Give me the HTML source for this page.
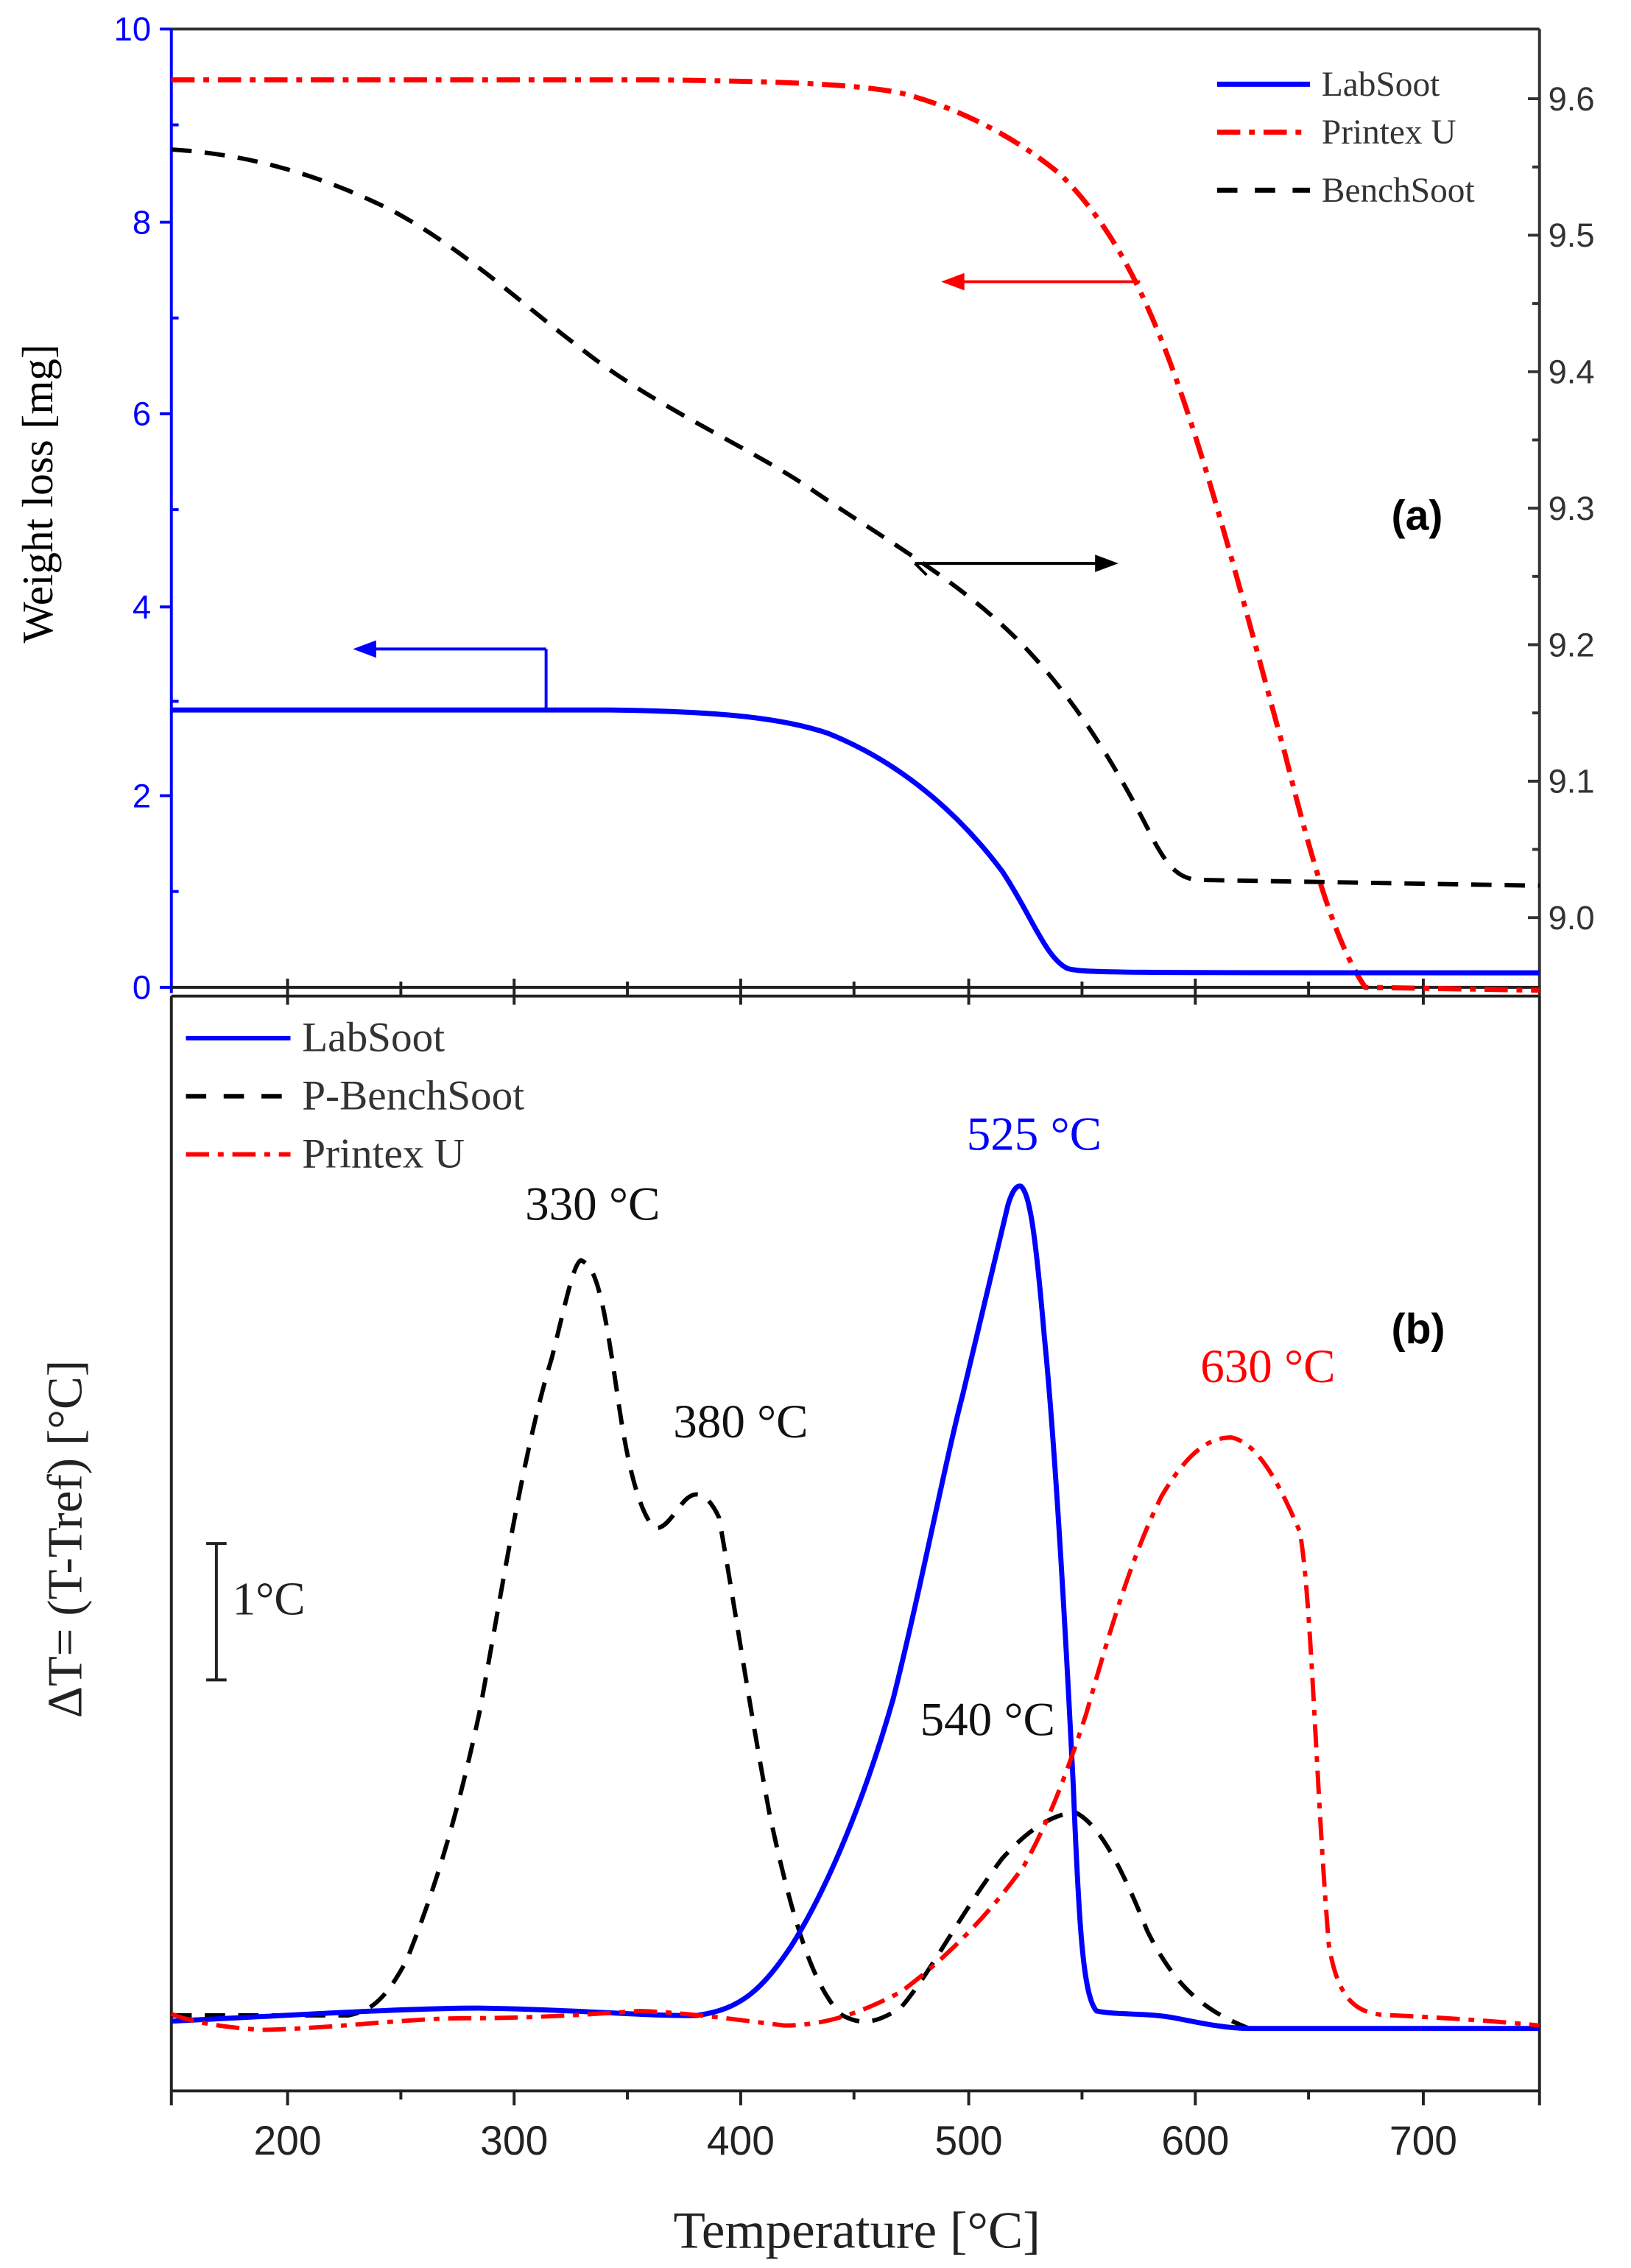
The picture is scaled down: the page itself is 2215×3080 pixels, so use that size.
<!DOCTYPE html>
<html><head><meta charset="utf-8"><style>html,body{margin:0;padding:0;background:#fff}svg{display:block}</style></head>
<body>
<svg width="2215" height="3080" viewBox="0 0 1123 1562" preserveAspectRatio="none" xmlns="http://www.w3.org/2000/svg">
<rect width="1123" height="1562" fill="#fff"/>
<line x1="118" y1="20" x2="1060" y2="20" stroke="#333" stroke-width="2"/>
<line x1="1060" y1="20" x2="1060" y2="686" stroke="#333" stroke-width="2"/>
<line x1="118" y1="20" x2="118" y2="684" stroke="#00f" stroke-width="2"/>
<line x1="118" y1="680" x2="1060" y2="680" stroke="#222" stroke-width="2"/>
<line x1="118" y1="686" x2="1060" y2="686" stroke="#222" stroke-width="2"/>
<g stroke="#00f" stroke-width="2">
<line x1="110" y1="680" x2="118" y2="680"/><line x1="110" y1="548" x2="118" y2="548"/><line x1="110" y1="418" x2="118" y2="418"/><line x1="110" y1="285" x2="118" y2="285"/><line x1="110" y1="153" x2="118" y2="153"/><line x1="110" y1="20" x2="118" y2="20"/>
<line x1="118" y1="614" x2="123" y2="614"/><line x1="118" y1="483" x2="123" y2="483"/><line x1="118" y1="351" x2="123" y2="351"/><line x1="118" y1="219" x2="123" y2="219"/><line x1="118" y1="86" x2="123" y2="86"/>
</g>
<g font-family="Liberation Sans, sans-serif" font-size="23" fill="#00f" text-anchor="end">
<text x="104" y="688">0</text><text x="104" y="556">2</text><text x="104" y="426">4</text><text x="104" y="293">6</text><text x="104" y="161">8</text><text x="104" y="28">10</text>
</g>
<g stroke="#333" stroke-width="2">
<line x1="1052" y1="68" x2="1060" y2="68"/><line x1="1052" y1="162" x2="1060" y2="162"/><line x1="1052" y1="256" x2="1060" y2="256"/><line x1="1052" y1="350" x2="1060" y2="350"/><line x1="1052" y1="444" x2="1060" y2="444"/><line x1="1052" y1="538" x2="1060" y2="538"/><line x1="1052" y1="632" x2="1060" y2="632"/>
<line x1="1055" y1="115" x2="1060" y2="115"/><line x1="1055" y1="209" x2="1060" y2="209"/><line x1="1055" y1="303" x2="1060" y2="303"/><line x1="1055" y1="397" x2="1060" y2="397"/><line x1="1055" y1="491" x2="1060" y2="491"/><line x1="1055" y1="585" x2="1060" y2="585"/>
</g>
<g font-family="Liberation Sans, sans-serif" font-size="23" fill="#333">
<text x="1066" y="76">9.6</text><text x="1066" y="170">9.5</text><text x="1066" y="264">9.4</text><text x="1066" y="358">9.3</text><text x="1066" y="452">9.2</text><text x="1066" y="546">9.1</text><text x="1066" y="640">9.0</text>
</g>
<g stroke="#222" stroke-width="2">
<line x1="198" y1="674" x2="198" y2="692"/><line x1="354" y1="674" x2="354" y2="692"/><line x1="510" y1="674" x2="510" y2="692"/><line x1="667" y1="674" x2="667" y2="692"/><line x1="823" y1="674" x2="823" y2="692"/><line x1="980" y1="674" x2="980" y2="692"/>
<line x1="276" y1="676" x2="276" y2="686"/><line x1="432" y1="676" x2="432" y2="686"/><line x1="588" y1="676" x2="588" y2="686"/><line x1="745" y1="676" x2="745" y2="686"/><line x1="901" y1="676" x2="901" y2="686"/>
</g>
<text transform="translate(36,340) rotate(-90)" text-anchor="middle" font-family="Liberation Serif, serif" font-size="30">Weight loss [mg]</text>
<path d="M118,55 L450,55 C540,56 590,58 620,64 C660,74 700,95 730,120 C760,150 780,185 800,235 C830,310 860,430 885,520 C905,600 920,650 940,680 L1060,682" fill="none" stroke="#f00" stroke-width="3.5" stroke-dasharray="16,6,4,6"/>
<path d="M118,103 C170,106 220,120 270,145 C320,172 360,210 400,240 C450,280 520,310 560,338 C610,372 660,400 700,440 C740,480 770,530 795,580 C805,598 812,605 825,606 L1060,610" fill="none" stroke="#000" stroke-width="3" stroke-dasharray="14,9"/>
<path d="M118,489 L420,489 C500,490 540,495 570,505 C620,525 660,560 690,600 C710,630 720,660 735,667 C745,670 760,670 1060,670" fill="none" stroke="#00f" stroke-width="3.5"/>
<g stroke="#f00" stroke-width="2"><line x1="785" y1="194" x2="660" y2="194"/></g><polygon points="648,194 664,188 664,200" fill="#f00"/>
<g stroke="#000" stroke-width="2"><line x1="630" y1="388" x2="758" y2="388"/><line x1="630" y1="388" x2="638" y2="396"/></g><polygon points="770,388 754,382 754,394" fill="#000"/>
<g stroke="#00f" stroke-width="2"><line x1="376" y1="447" x2="376" y2="489"/><line x1="376" y1="447" x2="253" y2="447"/></g><polygon points="243,447 259,441 259,453" fill="#00f"/>
<line x1="838" y1="58" x2="902" y2="58" stroke="#00f" stroke-width="3.5"/>
<line x1="838" y1="91" x2="902" y2="91" stroke="#f00" stroke-width="3.5" stroke-dasharray="16,6,4,6"/>
<line x1="838" y1="131" x2="902" y2="131" stroke="#000" stroke-width="3.5" stroke-dasharray="14,12"/>
<g font-family="Liberation Serif, serif" font-size="24" fill="#333">
<text x="910" y="66">LabSoot</text><text x="910" y="99">Printex U</text><text x="910" y="139">BenchSoot</text>
</g>
<text x="958" y="365" font-family="Liberation Sans, sans-serif" font-weight="bold" font-size="29">(a)</text>
<line x1="118" y1="686" x2="118" y2="1440" stroke="#222" stroke-width="2"/>
<line x1="1060" y1="686" x2="1060" y2="1440" stroke="#222" stroke-width="2"/>
<line x1="118" y1="1440" x2="1060" y2="1440" stroke="#222" stroke-width="2"/>
<g stroke="#222" stroke-width="2">
<line x1="198" y1="1440" x2="198" y2="1450"/><line x1="354" y1="1440" x2="354" y2="1450"/><line x1="510" y1="1440" x2="510" y2="1450"/><line x1="667" y1="1440" x2="667" y2="1450"/><line x1="823" y1="1440" x2="823" y2="1450"/><line x1="980" y1="1440" x2="980" y2="1450"/>
<line x1="276" y1="1440" x2="276" y2="1446"/><line x1="432" y1="1440" x2="432" y2="1446"/><line x1="588" y1="1440" x2="588" y2="1446"/><line x1="745" y1="1440" x2="745" y2="1446"/><line x1="901" y1="1440" x2="901" y2="1446"/><line x1="118" y1="1440" x2="118" y2="1450"/><line x1="1060" y1="1440" x2="1060" y2="1450"/>
</g>
<g font-family="Liberation Sans, sans-serif" font-size="28" fill="#222" text-anchor="middle">
<text x="198" y="1484">200</text><text x="354" y="1484">300</text><text x="510" y="1484">400</text><text x="667" y="1484">500</text><text x="823" y="1484">600</text><text x="980" y="1484">700</text>
</g>
<text x="590" y="1548" text-anchor="middle" font-family="Liberation Serif, serif" font-size="36" fill="#222">Temperature [°C]</text>
<text transform="translate(56,1060) rotate(-90)" text-anchor="middle" font-family="Liberation Serif, serif" font-size="34" fill="#222">ΔT= (T-Tref) [°C]</text>
<path d="M118,1388 L240,1388 C255,1385 265,1378 280,1350 C300,1300 315,1250 330,1180 C345,1100 360,1000 380,935 C390,895 395,870 400,868 C410,872 415,890 425,960 C432,1010 440,1040 450,1052 C458,1055 465,1040 472,1033 C480,1025 488,1030 495,1045 C505,1100 515,1170 530,1250 C545,1320 560,1370 580,1388 C595,1396 605,1392 620,1383 C640,1360 660,1320 690,1280 C710,1258 725,1250 740,1248 C755,1255 770,1280 790,1330 C810,1370 830,1385 860,1397 L1030,1397" fill="none" stroke="#000" stroke-width="3" stroke-dasharray="14,9"/>
<path d="M118,1392 C200,1388 280,1383 330,1383 C400,1384 450,1389 480,1388 C510,1384 525,1370 545,1340 C570,1300 595,1240 615,1170 C635,1090 650,1010 663,960 C677,900 687,860 694,830 C697,820 700,816 703,817 C709,822 713,850 719,920 C727,1000 734,1130 739,1230 C743,1330 746,1375 755,1385 C770,1388 790,1386 810,1390 C830,1394 845,1397 860,1397 L1060,1397" fill="none" stroke="#00f" stroke-width="3.5"/>
<path d="M118,1387 C130,1392 150,1396 180,1398 C230,1397 280,1390 320,1390 C370,1390 410,1387 440,1385 C470,1386 500,1390 540,1395 C570,1395 595,1385 620,1372 C650,1350 680,1320 705,1285 C722,1255 735,1220 748,1180 C765,1120 780,1070 800,1030 C818,1000 832,990 848,990 C866,994 880,1020 895,1055 C903,1100 906,1230 915,1340 C922,1380 935,1388 960,1388 C1000,1390 1030,1392 1060,1395" fill="none" stroke="#f00" stroke-width="3" stroke-dasharray="16,6,4,6"/>
<line x1="128" y1="715" x2="200" y2="715" stroke="#00f" stroke-width="3"/>
<line x1="128" y1="755" x2="200" y2="755" stroke="#000" stroke-width="3" stroke-dasharray="14,12"/>
<line x1="128" y1="795" x2="200" y2="795" stroke="#f00" stroke-width="3" stroke-dasharray="16,6,4,6"/>
<g font-family="Liberation Serif, serif" font-size="29" fill="#333">
<text x="208" y="724">LabSoot</text><text x="208" y="764">P-BenchSoot</text><text x="208" y="804">Printex U</text>
</g>
<g font-family="Liberation Serif, serif" font-size="33" text-anchor="middle">
<text x="712" y="792" fill="#00f">525 °C</text>
<text x="408" y="840" fill="#111">330 °C</text>
<text x="510" y="990" fill="#111">380 °C</text>
<text x="873" y="952" fill="#f00">630 °C</text>
<text x="680" y="1195" fill="#111">540 °C</text>
</g>
<text x="958" y="925" font-family="Liberation Sans, sans-serif" font-weight="bold" font-size="29">(b)</text>
<g stroke="#222" stroke-width="2"><line x1="149" y1="1063" x2="149" y2="1157"/><line x1="142" y1="1063" x2="156" y2="1063"/><line x1="142" y1="1157" x2="156" y2="1157"/></g>
<text x="160" y="1112" font-family="Liberation Serif, serif" font-size="32" fill="#222">1°C</text>
</svg>
</body></html>
